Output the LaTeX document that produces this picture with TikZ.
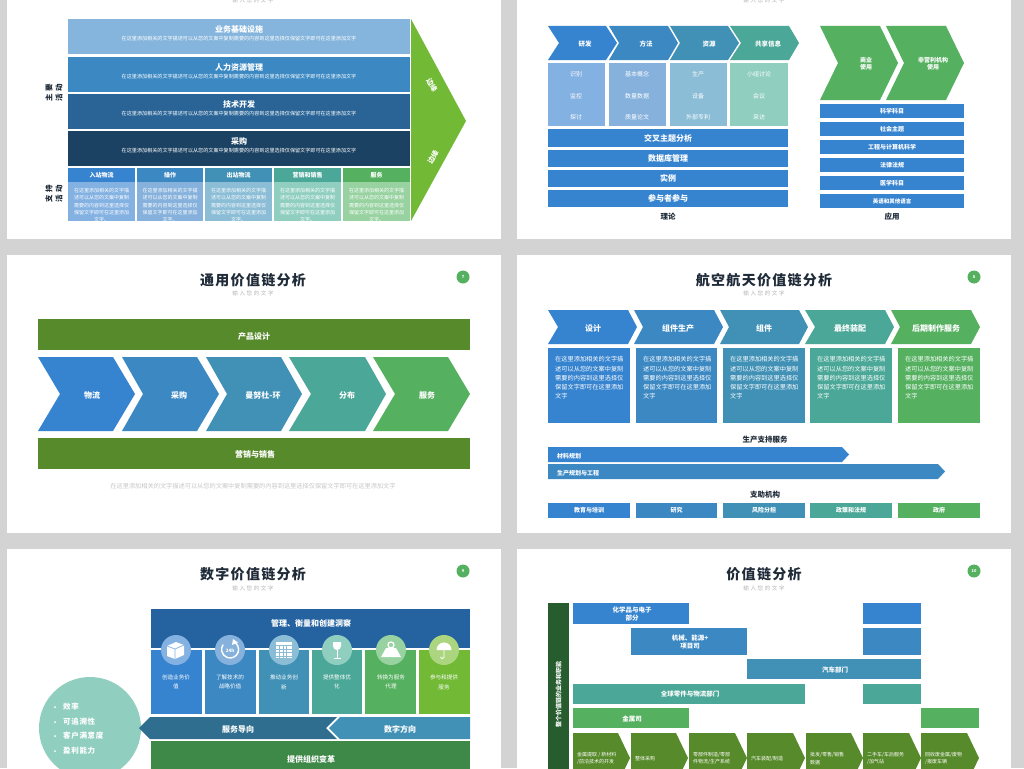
\documentclass[tikz,border=0pt]{standalone}
\usepackage{fontspec}
\setmainfont{Noto Sans CJK SC}
\newfontfamily\spacedcjk[LetterSpace=9]{Noto Sans CJK SC}
\newfontfamily\widecjk[LetterSpace=30]{Noto Sans CJK SC}
\usepackage{xcolor}
\definecolor{pagegrey}{HTML}{D3D3D3}
\definecolor{titledark}{HTML}{1F2B38}
\definecolor{subgrey}{HTML}{B4B4B4}
\definecolor{chainA}{HTML}{3683CF}
\definecolor{chainB}{HTML}{3B88C3}
\definecolor{chainC}{HTML}{4191B6}
\definecolor{chainD}{HTML}{4BA797}
\definecolor{chainE}{HTML}{55B060}
\definecolor{chainF}{HTML}{72B936}
\definecolor{paleA}{HTML}{83B1E2}
\definecolor{paleB}{HTML}{85B1DC}
\definecolor{paleC}{HTML}{8BBDD6}
\definecolor{paleD}{HTML}{90CFC0}
\definecolor{paleE}{HTML}{97D2A0}
\definecolor{paleF}{HTML}{ABD57F}
\definecolor{barpale}{HTML}{85B5DC}
\definecolor{barmid}{HTML}{2A6496}
\definecolor{bardeep}{HTML}{1C4263}
\definecolor{barnavy}{HTML}{24639F}
\definecolor{leaf}{HTML}{578A2A}
\definecolor{forest}{HTML}{3E8948}
\definecolor{darkleaf}{HTML}{265C2E}
\definecolor{teal}{HTML}{2F6E8E}
\usepackage{tikz}
\tikzset{
    slab/.style={inner sep=0pt, outer sep=0pt, text=white, align=center},
    wlabel/.style={text=white, align=center, inner sep=0pt, font=\bfseries\fontsize{#1}{#1}\selectfont},
    wlabel/.default=8,
    wsmall/.style={text=white, align=center, inner sep=0pt, font=\fontsize{5}{7.3}\selectfont},
    wbody/.style={text=white, align=left, inner sep=0pt, font=\fontsize{6.2}{9.2}\selectfont},
    wtiny/.style={text=white, align=left, inner sep=0pt, font=\fontsize{5}{7.2}\selectfont},
    dlabel/.style={text=titledark, inner sep=0pt, font=\bfseries\fontsize{7.5}{8}\selectfont},
    heading/.style={text=titledark, inner sep=0pt, font=\spacedcjk\bfseries\fontsize{14}{15}\selectfont},
    subhead/.style={text=subgrey, inner sep=0pt, font=\widecjk\fontsize{5.5}{6}\selectfont},
    badge/.style={circle, fill=chainE, text=white, minimum size=13pt, inner sep=0pt, font=\bfseries\fontsize{4}{4}\selectfont},
    iconring/.style={circle, minimum size=30pt, inner sep=0pt}
}
% rectangle node from its two corners
\newcommand{\panel}[7][wlabel]{
    \node[slab, #1, fill=#6, minimum width={(#4-#2)*1pt}, minimum height={(#5-#3)*1pt}] (#7) at ({(#2+#4)/2},{(#3+#5)/2}) {};
}
% arrow band: colour, left, notch, shoulder, tip, top, bottom
\newcommand{\chev}[7]{
    \fill[#1] (#2,#6) -- (#4,#6) -- (#5,{(#6+#7)/2}) -- (#4,#7) -- (#2,#7) -- (#3,{(#6+#7)/2}) -- cycle;
}

\begin{document}
\begin{tikzpicture}[x=1pt, y=-1pt]

    \clip (0,0) rectangle (1024,768);
    \fill[pagegrey] (0,0) rectangle (1024,768);

    % the six slides
    \fill[white] (7,-5) rectangle (501,239);
    \fill[white] (517,-5) rectangle (1011,239);
    \fill[white] (7,255) rectangle (501,533);
    \fill[white] (517,255) rectangle (1011,533);
    \fill[white] (7,549) rectangle (501,775);
    \fill[white] (517,549) rectangle (1011,775);

    % slide one
    \node[subhead] (subA) at (253,0) {输入您的文字};
    \panel{68}{19}{410}{54}{barpale}{barone}
    \panel{68}{57}{410}{92}{chainB}{bartwo}
    \panel{68}{94}{410}{129}{barmid}{barthree}
    \panel{68}{131}{410}{166}{bardeep}{barfour}
    \node[wlabel] (tA) at (239,29) {业务基础设施};
    \node[wlabel] (tB) at (239,67) {人力资源管理};
    \node[wlabel] (tC) at (239,104) {技术开发};
    \node[wlabel] (tD) at (239,141) {采购};
    \node[wsmall, font=\fontsize{5.1}{6}\selectfont] (dA) at (239,39) {在这里添加相关的文字描述可以从您的文案中复制需要的内容到这里选择仅保留文字即可在这里添加文字};
    \node[wsmall, font=\fontsize{5.1}{6}\selectfont] (dB) at (239,77) {在这里添加相关的文字描述可以从您的文案中复制需要的内容到这里选择仅保留文字即可在这里添加文字};
    \node[wsmall, font=\fontsize{5.1}{6}\selectfont] (dC) at (239,114) {在这里添加相关的文字描述可以从您的文案中复制需要的内容到这里选择仅保留文字即可在这里添加文字};
    \node[wsmall, font=\fontsize{5.1}{6}\selectfont] (dD) at (239,151) {在这里添加相关的文字描述可以从您的文案中复制需要的内容到这里选择仅保留文字即可在这里添加文字};

    \panel{68}{168}{135}{182}{chainA}{headA}
    \panel{137}{168}{203}{182}{chainB}{headB}
    \panel{205}{168}{272}{182}{chainC}{headC}
    \panel{274}{168}{341}{182}{chainD}{headD}
    \panel{343}{168}{410}{182}{chainE}{headE}
    \panel{68}{182}{135}{221}{paleA}{bodyA}
    \panel{137}{182}{203}{221}{paleB}{bodyB}
    \panel{205}{182}{272}{221}{paleC}{bodyC}
    \panel{274}{182}{341}{221}{paleD}{bodyD}
    \panel{343}{182}{410}{221}{paleE}{bodyE}
    \node[wlabel=6] at (headA) (hA) {入站物流};
    \node[wlabel=6] at (headB) (hB) {操作};
    \node[wlabel=6] at (headC) (hC) {出站物流};
    \node[wlabel=6] at (headD) (hD) {营销和销售};
    \node[wlabel=6] at (headE) (hE) {服务};
    \node[wsmall, anchor=north] (bA) at (101.5,188) {在这里添加相关的文字描\\述可以从您的文案中复制\\需要的内容到这里选择仅\\保留文字即可在这里添加\\文字。};
    \node[wsmall, anchor=north] (bB) at (170,188) {在这里添加相关的文字描\\述可以从您的文案中复制\\需要的内容到这里选择仅\\保留文字即可在这里添加\\文字。};
    \node[wsmall, anchor=north] (bC) at (238.5,188) {在这里添加相关的文字描\\述可以从您的文案中复制\\需要的内容到这里选择仅\\保留文字即可在这里添加\\文字。};
    \node[wsmall, anchor=north] (bD) at (307.5,188) {在这里添加相关的文字描\\述可以从您的文案中复制\\需要的内容到这里选择仅\\保留文字即可在这里添加\\文字。};
    \node[wsmall, anchor=north] (bE) at (376.5,188) {在这里添加相关的文字描\\述可以从您的文案中复制\\需要的内容到这里选择仅\\保留文字即可在这里添加\\文字。};

    \fill[chainF] (411,19) -- (466,121) -- (411,221) -- cycle;
    \node[wlabel=7, rotate=-60] (edgeA) at (432,85) {边缘};
    \node[wlabel=7, rotate=60] (edgeB) at (433,157) {边缘};
    \node[dlabel, rotate=90, align=center, font=\widecjk\bfseries\fontsize{7.5}{10}\selectfont] (sideA) at (54,93) {主要\\活动};
    \node[dlabel, rotate=90, align=center, font=\widecjk\bfseries\fontsize{7.5}{10}\selectfont] (sideB) at (54,194) {支持\\活动};

    % slide two
    \node[subhead] (subB) at (764,0) {输入您的文字};
    \chev{chainA}{548}{559}{606}{617}{26}{60}
    \chev{chainB}{609}{619}{668}{678}{26}{60}
    \chev{chainC}{670}{680}{728}{739}{26}{60}
    \chev{chainD}{730}{741}{789}{799}{26}{60}
    \node[wlabel=6.5] (cA) at (585,44) {研发};
    \node[wlabel=6.5] (cB) at (646,44) {方法};
    \node[wlabel=6.5] (cC) at (709,44) {资源};
    \node[wlabel=6.5] (cD) at (768,44) {共享信息};
    \panel{548}{63}{605}{126}{paleA}{colA}
    \panel{609}{63}{666}{126}{paleB}{colB}
    \panel{670}{63}{727}{126}{paleC}{colC}
    \panel{730}{63}{788}{126}{paleD}{colD}
    \node[wsmall, font=\fontsize{6}{6}\selectfont] (aA) at (576,74) {识别};
    \node[wsmall, font=\fontsize{6}{6}\selectfont] (aB) at (576,96) {监控};
    \node[wsmall, font=\fontsize{6}{6}\selectfont] (aC) at (576,117) {探讨};
    \node[wsmall, font=\fontsize{6}{6}\selectfont] (aD) at (637,74) {基本概念};
    \node[wsmall, font=\fontsize{6}{6}\selectfont] (aE) at (637,96) {数量数据};
    \node[wsmall, font=\fontsize{6}{6}\selectfont] (aF) at (637,117) {质量论文};
    \node[wsmall, font=\fontsize{6}{6}\selectfont] (aG) at (698,74) {生产};
    \node[wsmall, font=\fontsize{6}{6}\selectfont] (aH) at (698,96) {设备};
    \node[wsmall, font=\fontsize{6}{6}\selectfont] (aI) at (698,117) {外部专利};
    \node[wsmall, font=\fontsize{6}{6}\selectfont] (aJ) at (759,74) {小组讨论};
    \node[wsmall, font=\fontsize{6}{6}\selectfont] (aK) at (759,96) {会议};
    \node[wsmall, font=\fontsize{6}{6}\selectfont] (aL) at (759,117) {采访};
    \panel{548}{129}{788}{147}{chainA}{rowA}
    \panel{548}{150}{788}{167}{chainA}{rowB}
    \panel{548}{170}{788}{187}{chainA}{rowC}
    \panel{548}{190}{788}{207}{chainA}{rowD}
    \node[wlabel] at (rowA) (rA) {交叉主题分析};
    \node[wlabel] at (rowB) (rB) {数据库管理};
    \node[wlabel] at (rowC) (rC) {实例};
    \node[wlabel] at (rowD) (rD) {参与者参与};
    \node[dlabel] (theory) at (668,217) {理论};
    \node[dlabel] (apply) at (892,217) {应用};

    \chev{chainE}{820}{838}{880}{898}{26}{100}
    \chev{chainE}{886}{904}{946}{964}{26}{100}
    \node[wlabel=6, font=\bfseries\fontsize{6}{7}\selectfont] (useA) at (866,64) {商业\\使用};
    \node[wlabel=6, font=\bfseries\fontsize{6}{7}\selectfont] (useB) at (933,64) {非营利机构\\使用};
    \panel{820}{104}{964}{118}{chainA}{subjA}
    \panel{820}{122}{964}{136}{chainA}{subjB}
    \panel{820}{140}{964}{154}{chainA}{subjC}
    \panel{820}{158}{964}{172}{chainA}{subjD}
    \panel{820}{176}{964}{190}{chainA}{subjE}
    \panel{820}{194}{964}{208}{chainA}{subjF}
    \node[wlabel=6] at (subjA) (sA) {科学科目};
    \node[wlabel=6] at (subjB) (sB) {社会主题};
    \node[wlabel=6] at (subjC) (sC) {工程与计算机科学};
    \node[wlabel=6] at (subjD) (sD) {法律法规};
    \node[wlabel=6] at (subjE) (sE) {医学科目};
    \node[wlabel=5.5] at (subjF) (sF) {英语和其他语言};

    % slide three
    \node[heading] (titleC) at (253,280) {通用价值链分析};
    \node[subhead] (subC) at (253,293) {输入您的文字};
    \node[badge] (pageC) at (463,277) {7};
    \panel{38}{319}{470}{350}{leaf}{design}
    \panel{38}{438}{470}{469}{leaf}{sales}
    \node[wlabel] (tDesign) at (254,336) {产品设计};
    \node[wlabel] (tSales) at (255,454) {营销与销售};
    \chev{chainA}{38}{60}{113}{135}{357}{431}
    \chev{chainB}{122}{143}{197}{219}{357}{431}
    \chev{chainC}{206}{227}{281}{302}{357}{431}
    \chev{chainD}{289}{311}{365}{386}{357}{431}
    \chev{chainE}{373}{395}{448}{470}{357}{431}
    \node[wlabel] (gA) at (92,395) {物流};
    \node[wlabel] (gB) at (179,395) {采购};
    \node[wlabel] (gC) at (263,395) {曼努杜-环};
    \node[wlabel] (gD) at (347,395) {分布};
    \node[wlabel] (gE) at (427,395) {服务};
    \node[subhead, font=\fontsize{6.2}{7}\selectfont, text=black!22] (noteC) at (253,486) {在这里添加相关的文字描述可以从您的文案中复制需要的内容到这里选择仅保留文字即可在这里添加文字};

    % slide four
    \node[heading] (titleD) at (764,280) {航空航天价值链分析};
    \node[subhead] (subD) at (764,293) {输入您的文字};
    \node[badge] (pageD) at (974,277) {8};
    \chev{chainA}{548}{558}{628}{637}{310}{344}
    \chev{chainB}{634}{643}{714}{723}{310}{344}
    \chev{chainC}{720}{729}{799}{808}{310}{344}
    \chev{chainD}{805}{815}{885}{894}{310}{344}
    \chev{chainE}{891}{900}{971}{980}{310}{344}
    \node[wlabel] (pA) at (593,328) {设计};
    \node[wlabel] (pB) at (678,328) {组件生产};
    \node[wlabel] (pC) at (764,328) {组件};
    \node[wlabel] (pD) at (850,328) {最终装配};
    \node[wlabel] (pE) at (936,328) {后期制作服务};
    \panel{548}{348}{630}{423}{chainA}{boxA}
    \panel{636}{348}{717}{423}{chainB}{boxB}
    \panel{723}{348}{805}{423}{chainC}{boxC}
    \panel{810}{348}{892}{423}{chainD}{boxD}
    \panel{898}{348}{980}{423}{chainE}{boxE}
    \node[wbody, anchor=north west] (xA) at (555,356.5) {在这里添加相关的文字描\\述可以从您的文案中复制\\需要的内容到这里选择仅\\保留文字即可在这里添加\\文字};
    \node[wbody, anchor=north west] (xB) at (643,356.5) {在这里添加相关的文字描\\述可以从您的文案中复制\\需要的内容到这里选择仅\\保留文字即可在这里添加\\文字};
    \node[wbody, anchor=north west] (xC) at (730,356.5) {在这里添加相关的文字描\\述可以从您的文案中复制\\需要的内容到这里选择仅\\保留文字即可在这里添加\\文字};
    \node[wbody, anchor=north west] (xD) at (817,356.5) {在这里添加相关的文字描\\述可以从您的文案中复制\\需要的内容到这里选择仅\\保留文字即可在这里添加\\文字};
    \node[wbody, anchor=north west] (xE) at (905,356.5) {在这里添加相关的文字描\\述可以从您的文案中复制\\需要的内容到这里选择仅\\保留文字即可在这里添加\\文字};
    \node[dlabel] (support) at (765,440) {生产支持服务};
    \fill[chainA] (548,447) -- (842,447) -- (849,454.5) -- (842,462) -- (548,462) -- cycle;
    \fill[chainB] (548,464) -- (938,464) -- (945,471.5) -- (938,479) -- (548,479) -- cycle;
    \node[wlabel=6, anchor=west] (mPlan) at (557,456) {材料规划};
    \node[wlabel=6, anchor=west] (mMake) at (557,473) {生产规划与工程};
    \node[dlabel] (agency) at (765,495) {支助机构};
    \panel{548}{503}{630}{518}{chainA}{baseA}
    \panel{636}{503}{717}{518}{chainB}{baseB}
    \panel{723}{503}{805}{518}{chainC}{baseC}
    \panel{810}{503}{892}{518}{chainD}{baseD}
    \panel{898}{503}{980}{518}{chainE}{baseE}
    \node[wlabel=6] at (baseA) (qA) {教育与培训};
    \node[wlabel=6] at (baseB) (qB) {研究};
    \node[wlabel=6] at (baseC) (qC) {风险分担};
    \node[wlabel=6] at (baseD) (qD) {政策和法规};
    \node[wlabel=6] at (baseE) (qE) {政府};

    % slide five
    \node[heading] (titleE) at (253,574) {数字价值链分析};
    \node[subhead] (subE) at (253,588) {输入您的文字};
    \node[badge] (pageE) at (463,571) {9};
    \panel{151}{609}{470}{648}{barnavy}{insight}
    \node[wlabel] (tInsight) at (311,623) {管理、衡量和创建洞察};
    \panel{151}{650}{202}{714}{chainA}{stepA}
    \panel{205}{650}{256}{714}{chainB}{stepB}
    \panel{259}{650}{309}{714}{chainC}{stepC}
    \panel{312}{650}{362}{714}{chainD}{stepD}
    \panel{365}{650}{416}{714}{chainE}{stepE}
    \panel{419}{650}{470}{714}{chainF}{stepF}
    \node[wsmall, font=\fontsize{5.6}{9.7}\selectfont] (vA) at (176,682) {创造业务价\\值};
    \node[wsmall, font=\fontsize{5.6}{9.7}\selectfont] (vB) at (230,682) {了解技术的\\战略价值};
    \node[wsmall, font=\fontsize{5.6}{9.7}\selectfont] (vC) at (284,682) {推动业务创\\新};
    \node[wsmall, font=\fontsize{5.6}{9.7}\selectfont] (vD) at (337,682) {提供整体优\\化};
    \node[wsmall, font=\fontsize{5.6}{9.7}\selectfont] (vE) at (391,682) {转换为服务\\代理};
    \node[wsmall, font=\fontsize{5.6}{9.7}\selectfont] (vF) at (444,682) {参与和提供\\服务};

    \node[iconring, fill=paleA] (ringA) at (176,650) {};
    \node[iconring, fill=paleB] (ringB) at (230,650) {};
    \node[iconring, fill=paleC] (ringC) at (284,650) {};
    \node[iconring, fill=paleD] (ringD) at (337,650) {};
    \node[iconring, fill=paleE] (ringE) at (391,650) {};
    \node[iconring, fill=paleF] (ringF) at (444,650) {};
    % icons
    \fill[white] (167,646) -- (176,642) -- (184,645) -- (184,655) -- (175,659) -- (167,656) -- cycle;
    \draw[paleA, line width=0.7pt] (167,646) -- (175,649) -- (184,645) (175,649) -- (175,659);
    \draw[white, line width=1.4pt] (233,641.5) arc (-70:215:8.5);
    \fill[white] (233,639) -- (238,642.5) -- (232,645) -- cycle;
    \node[wlabel=4.5] (hours) at (230,651) {24h};
    \fill[white] (276,642) rectangle (292,658);
    \draw[paleC, line width=0.4pt] (276,645.5) -- (292,645.5) (276,649) -- (292,649) (276,652.5) -- (292,652.5) (276,656) -- (292,656);
    \draw[paleC, line width=0.4pt] (279.5,645.5) -- (279.5,658) (283,645.5) -- (283,658) (286.5,645.5) -- (286.5,658);
    \fill[white] (333,642) -- (341,642) -- (341,646) arc (0:180:4) -- cycle;
    \draw[white, line width=1pt] (337,650) -- (337,658) (333.5,658) -- (340.5,658);
    \fill[white] (386,648) -- (396,648) -- (401,657) -- (381,657) -- cycle;
    \draw[white, line width=1.3pt] (391,645) circle (3);
    \fill[white] (436.5,650) arc (180:360:7.5) -- cycle;
    \draw[white, line width=0.8pt] (444,642) -- (444,657) arc (0:180:1.8);

    \fill[paleD] (90,728) circle (51);
    \fill[teal] (139,728) -- (150,717) -- (337,717) -- (326,728) -- (337,739) -- (150,739) -- cycle;
    \fill[chainC] (340,717) -- (470,717) -- (470,739) -- (340,739) -- (329,728) -- cycle;
    \node[wlabel] (tService) at (238,729) {服务导向};
    \node[wlabel] (tDigital) at (400,729) {数字方向};
    \panel{151}{741}{470}{775}{forest}{change}
    \node[wlabel] (tChange) at (311,759) {提供组织变革};
    \fill[white] (55,707) circle (1);
    \fill[white] (55,722) circle (1);
    \fill[white] (55,736) circle (1);
    \fill[white] (55,751) circle (1);
    \node[wlabel=7.5, anchor=west, font=\spacedcjk\bfseries\fontsize{7.5}{8}\selectfont] (kA) at (63,707) {效率};
    \node[wlabel=7.5, anchor=west, font=\spacedcjk\bfseries\fontsize{7.5}{8}\selectfont] (kB) at (63,722) {可追溯性};
    \node[wlabel=7.5, anchor=west, font=\spacedcjk\bfseries\fontsize{7.5}{8}\selectfont] (kC) at (63,736) {客户满意度};
    \node[wlabel=7.5, anchor=west, font=\spacedcjk\bfseries\fontsize{7.5}{8}\selectfont] (kD) at (63,751) {盈利能力};

    % slide six
    \node[heading] (titleF) at (764,574) {价值链分析};
    \node[subhead] (subF) at (764,588) {输入您的文字};
    \node[badge] (pageF) at (974,571) {10};
    \panel{548}{603}{569}{775}{darkleaf}{whole}
    \node[wlabel=6, rotate=90] (tWhole) at (558.5,694) {整个价值链的业务和职能};
    \panel{573}{603}{689}{624}{chainA}{chem}
    \panel{863}{603}{921}{624}{chainA}{chemB}
    \panel{631}{628}{747}{655}{chainB}{mech}
    \panel{863}{628}{921}{655}{chainB}{mechB}
    \panel{747}{659}{921}{679}{chainC}{auto}
    \panel{573}{684}{805}{704}{chainD}{parts}
    \panel{863}{684}{921}{704}{chainD}{partsB}
    \panel{573}{708}{689}{728}{chainE}{metal}
    \panel{921}{708}{979}{728}{chainE}{metalB}
    \node[wlabel=6.5, font=\bfseries\fontsize{6.5}{7.5}\selectfont] (tChem) at (632,614) {化学品与电子\\部分};
    \node[wlabel=6.5, font=\bfseries\fontsize{6.5}{7.5}\selectfont] (tMech) at (690,642) {机械、能源+\\项目司};
    \node[wlabel=6.5] (tAuto) at (835,670) {汽车部门};
    \node[wlabel=6.5] (tParts) at (690,694) {全球零件与物流部门};
    \node[wlabel=6.5] (tMetal) at (632,719) {金属司};
    \fill[leaf] (573,733) -- (618,733) -- (630,758) -- (618,783) -- (573,783) -- cycle;
    \fill[leaf] (631,733) -- (676,733) -- (688,758) -- (676,783) -- (631,783) -- cycle;
    \fill[leaf] (689,733) -- (735,733) -- (747,758) -- (735,783) -- (689,783) -- cycle;
    \fill[leaf] (747,733) -- (793,733) -- (805,758) -- (793,783) -- (747,783) -- cycle;
    \fill[leaf] (806,733) -- (851,733) -- (863,758) -- (851,783) -- (806,783) -- cycle;
    \fill[leaf] (863,733) -- (909,733) -- (921,758) -- (909,783) -- (863,783) -- cycle;
    \fill[leaf] (921,733) -- (967,733) -- (979,758) -- (967,783) -- (921,783) -- cycle;
    \node[wtiny, anchor=west] (lA) at (577,758.5) {金属提取 / 新材料\\/前沿技术的开发};
    \node[wtiny, anchor=west] (lB) at (635,758.5) {整体采购};
    \node[wtiny, anchor=west] (lC) at (693,758.5) {零部件制造/零部\\件物流/生产系统};
    \node[wtiny, anchor=west] (lD) at (751,758.5) {汽车装配/制造};
    \node[wtiny, anchor=west] (lE) at (810,758.5) {批发/零售/销售\\数据};
    \node[wtiny, anchor=west] (lF) at (867,758.5) {二手车/车后服务\\/加气站};
    \node[wtiny, anchor=west] (lG) at (925,758.5) {回收废金属/废物\\/报废车辆};

\end{tikzpicture}
\end{document}
